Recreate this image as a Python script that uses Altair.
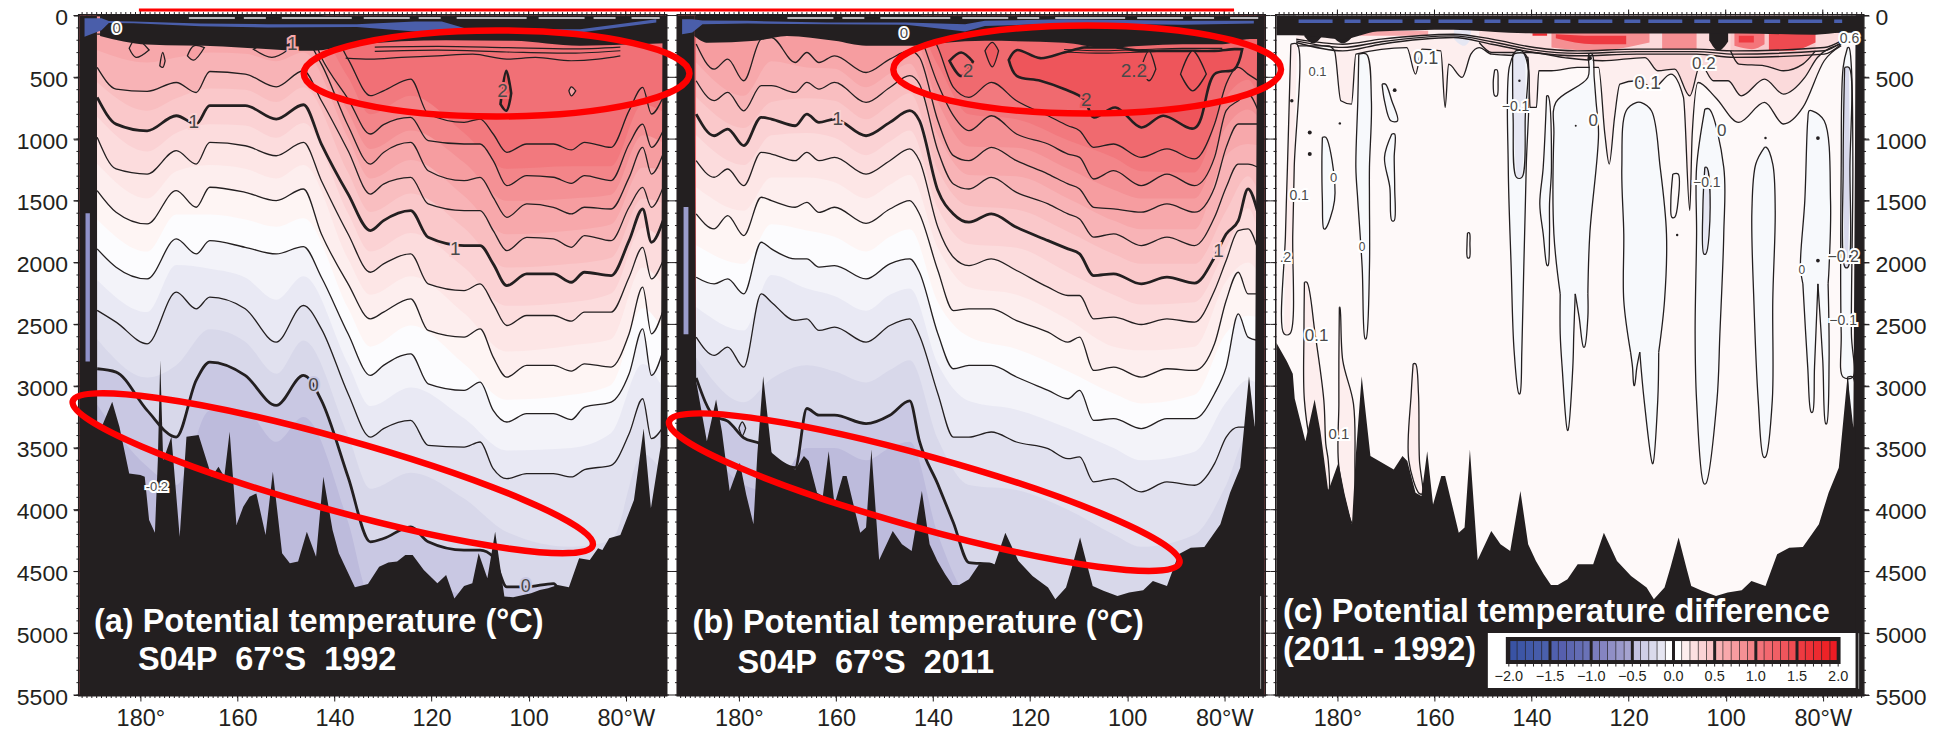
import altair as alt
import pandas as pd

INK = "#231f20"
FONT = "Liberation Sans"
W, H = 587, 680
XD = [192.55, 71.7]
YD = [5500, 0]

# ---------- panel (a) isotherm depths ----------
A_LON = [188.9,185,178.6,172.6,168.5,165.7,158.4,152,146.4,142.7,137.2,132.6,129.9,124.3,120.7,113.3,110,107.3,104.5,100.4,94.9,91.2,88.5,83,79.3,76.5,74.7,72.3]
A_LINES = {
 1.8:[0,0,0,0,0,0,0,0,0,0,353,649,609,514,797,865,838,959,1107,1040,1040,1088,1026,1067,770,581,797,662],
 1.6:[0,0,0,0,0,0,0,0,0,339,676,959,883,824,1013,1040,1040,1175,1377,1296,1309,1358,1296,1336,1040,879,1067,932],
 1.4:[151,151,151,151,151,151,151,151,178,393,892,1202,1108,1027,1256,1337,1310,1471,1633,1525,1552,1606,1552,1566,1310,1067,1283,1121],
 1.2:[420,595,614,542,623,453,474,577,447,690,1094,1445,1364,1310,1525,1579,1579,1741,1903,1795,1808,1876,1781,1822,1552,1391,1552,1391],
 1.0:[663,879,933,811,879,730,730,838,722,1040,1445,1741,1660,1579,1795,1862,1862,2010,2186,2091,2091,2159,2078,2105,1822,1566,1835,1660],
 0.8:[986,1242,1283,1094,1202,1027,1054,1135,1027,1337,1768,2078,2010,1930,2172,2226,2172,2334,2509,2428,2428,2474,2401,2401,2118,1876,2132,1983],
 0.6:[1417,1592,1687,1417,1552,1390,1431,1498,1404,1768,2172,2455,2401,2293,2549,2603,2536,2765,2927,2832,2832,2878,2819,2846,2576,2199,2576,2388],
 0.4:[1889,2037,2132,1808,1930,1822,1876,1930,1870,2118,2576,2913,2832,2738,2981,3034,2967,3196,3290,3223,3223,3271,3169,3129,2900,2536,2913,2711],
 0.2:[2387,2482,2657,2239,2374,2280,2374,2644,2347,2536,3061,3412,3344,3277,3479,3493,3452,3668,3749,3708,3708,3735,3676,3641,3385,3102,3425,3331],
 0.0:[2859,2886,3196,3412,2954,2805,2913,3156,2913,3115,3735,4260,4233,4139,4260,4328,4328,4382,4625,4625,4598,4866,4866,4866,4866,4866,4866,4866],
}
A_MID_LON = [188.9,178.6,172.6,165.7,158.4,152,146.4,137.2,132.6,124.3,113.3,104.5,91.2,83,76.5,72.3]
A_MID = {
 1.7:[0,0,0,0,0,0,0,500,800,650,950,1240,1220,1220,720,780],
 1.5:[100,100,100,100,100,100,110,780,1080,930,1190,1500,1480,1450,970,1030],
 1.3:[280,380,340,300,310,370,300,990,1320,1170,1460,1770,1740,1690,1230,1250],
 1.1:[540,770,670,590,600,700,580,1270,1590,1440,1720,2040,2010,1960,1480,1520],
 0.9:[820,1100,950,880,890,990,870,1600,1910,1760,2040,2350,2320,2250,1720,1820],
 0.7:[1200,1480,1260,1210,1240,1320,1210,1970,2260,2110,2410,2720,2670,2620,2040,2180],
 0.5:[1650,1910,1610,1610,1650,1710,1640,2370,2680,2510,2820,3110,3070,2990,2370,2550],
 0.3:[2140,2400,2020,2050,2120,2300,2110,2820,3160,3010,3260,3520,3500,3380,2820,3020],
 0.1:[2620,2930,2830,2540,2640,2900,2630,3400,3830,3700,3910,4180,4300,4250,3550,3700],
 -0.1:[3150,3650,3800,3200,3200,3450,3250,4100,4700,4600,4700,5000,5000,5000,4800,4800],
}
A_BATHY_LON = [192.55,188.95,188.9,187.8,185.8,184.3,182.3,180,179.1,178.2,177,176.4,175.9,175.3,173.6,171.9,170.5,168,165.3,163.9,162.7,161.6,160.2,158.8,157.5,156.1,154.2,152.7,150.8,149.2,147.5,145.7,143.8,142.3,140.4,139.1,135.8,133.1,130.8,128.9,127.1,125.4,123.9,121.6,118.8,117,115.3,113.3,111.6,110.3,108.5,106.9,105,103.2,99.5,97.7,96,94,91.7,89.6,87.4,85.7,84.8,83.4,81.1,78.3,76.3,74.8,72.8,72.4,71.7]
A_BATHY = [0,0,3288,3315,3127,3330,3706,3720,3733,4083,4186,3600,2790,3600,3410,4218,3410,3396,3733,3652,3733,3369,4124,3976,3895,3868,4205,3693,4353,4434,4420,4178,4380,3733,4164,4353,4628,4601,4461,4428,4420,4366,4366,4488,4596,4528,4719,4617,4596,4353,4555,4178,4703,4709,4676,4649,4636,4609,4628,4393,4407,4312,4326,4232,4205,3922,3342,3989,3490,0,0]

# ---------- panel (b) isotherm depths ----------
B_LON = [188.8,185.1,182.3,179,175.4,173.3,168.4,166,163.5,160.3,153.8,148.9,144.8,142.8,139,135.8,132.6,128,122.8,116.3,112.2,109.8,106.9,102.8,97.1,91.8,86.1,82,79.6,77.1,75.1,73]
B_LINES = {
 1.8:[0,0,0,0,0,0,0,0,0,0,0,0,0,0,259,581,662,541,690,811,892,932,1067,1040,1148,1080,1161,879,555,420,474,528],
 1.6:[0,0,0,0,0,0,0,0,0,0,0,0,0,151,555,811,932,811,959,1040,1121,1148,1323,1256,1377,1283,1377,1148,770,690,636,770],
 1.4:[231,434,353,528,191,178,380,299,380,326,461,353,285,339,851,1134,1175,1067,1175,1283,1363,1404,1552,1565,1592,1525,1592,1391,1067,878,878,878],
 1.2:[528,689,622,771,568,568,622,541,595,541,703,582,487,555,1094,1363,1404,1310,1431,1525,1606,1646,1794,1767,1862,1794,1862,1633,1390,1202,1202,1229],
 1.0:[798,973,919,1053,824,838,892,798,865,838,973,865,770,851,1417,1606,1673,1606,1714,1822,1889,1929,2105,2091,2172,2118,2166,1956,1768,1660,1404,1606],
 0.8:[1175,1309,1242,1377,1107,1121,1175,1107,1175,1148,1283,1175,1080,1175,1714,1956,2024,1970,2064,2199,2266,2266,2455,2441,2501,2455,2482,2226,1983,1741,1727,1902],
 0.6:[1606,1727,1619,1781,1471,1498,1552,1512,1593,1552,1682,1566,1498,1606,2064,2388,2374,2374,2469,2563,2644,2603,2873,2846,2927,2859,2873,2657,2307,2078,2253,2253],
 0.4:[2118,2172,2132,2253,1835,1889,1970,1970,2037,2024,2132,2010,1970,2078,2576,2859,2832,2832,2926,3034,3102,3034,3277,3263,3344,3263,3263,3061,2846,2415,2603,2630],
 0.2:[2603,2751,2684,2846,2253,2320,2468,2455,2549,2522,2644,2509,2455,2590,3061,3412,3412,3371,3452,3506,3587,3573,3775,3748,3856,3775,3802,3627,3412,3331,3331,3331],
 0.0:[2933,3243,3283,3418,3472,3552,3660,3181,3235,3235,3303,3235,3119,3445,3795,4105,4428,4442,4800,4800,4800,4800,4800,4800,4800,4800,4800,4800,4800,4800,4800,4800],
}
B_MID_LON = [188.8,179,173.3,166,160.3,153.8,148.9,144.8,139,132.6,122.8,112.2,102.8,97.1,86.1,79.6,75.1,73]
B_MID = {
 1.7:[0,0,0,0,0,0,0,0,400,800,840,1010,1150,1260,1270,660,520,650],
 1.5:[120,130,100,120,120,130,120,110,700,1060,1070,1240,1410,1480,1480,900,760,820],
 1.3:[380,650,370,420,430,580,470,390,970,1290,1300,1480,1660,1730,1730,1130,1040,1050],
 1.1:[660,910,700,670,690,840,720,630,1250,1540,1570,1750,1930,2010,2010,1580,1300,1420],
 0.9:[970,1210,970,950,990,1130,1020,930,1560,1850,1880,2080,2260,2340,2320,1880,1560,1750],
 0.7:[1390,1580,1310,1310,1350,1480,1370,1290,1880,2200,2260,2460,2680,2710,2680,2150,2000,2080],
 0.5:[1860,2010,1690,1740,1790,1910,1790,1730,2320,2600,2700,2880,3060,3140,3070,2570,2430,2440],
 0.3:[2360,2550,2100,2210,2270,2390,2260,2210,2820,3120,3190,3340,3500,3600,3530,3130,2950,2980],
 0.1:[2770,3130,2940,2830,2880,2970,2870,2790,3430,3800,3840,4000,4200,4300,4200,3800,3400,3500],
 -0.1:[3300,3800,3850,3500,3500,3600,3500,3450,4200,4700,4800,4900,5000,5000,5000,4800,4800,4800],
}
B_BATHY_LON = [192.55,189.2,188.8,186.6,184.7,183.5,181.9,179.8,178.5,177,176.2,175,173.2,168.4,166.6,165.6,163.9,162.7,161.5,160.3,158.6,157.8,155,153.8,152.7,151.1,148.3,146.4,144.4,142.3,140.7,139.1,137.5,136,134.6,132.6,130.5,127.3,125.1,122.4,119.5,116.3,114.8,112.6,111.4,109.7,108.1,107.1,104.9,102,99.6,96.7,94.7,91.8,89.4,86.9,84.1,80.8,78.8,76.7,74.9,73.7,73.2,71.7]
B_BATHY = [0,0,2960,3445,3108,3364,3849,3620,3876,4118,3552,2919,3566,3674,3566,3606,3862,3889,3526,3957,3728,3728,4186,4145,3512,4407,4172,4280,4334,3849,4280,4415,4523,4609,4609,4563,4442,4442,4186,4415,4536,4630,4725,4630,4469,4226,4469,4617,4657,4698,4671,4652,4577,4617,4361,4307,4302,4118,3862,3660,2919,3337,0,0]
C_BATHY_LON = [192.55,190.4,189.2,188.8] + B_BATHY_LON[3:]
C_BATHY = [2650,2800,2900,3100] + B_BATHY[3:]

BAND_COL = {1.8:"#f2797e",1.7:"#f38589",1.6:"#f49195",1.5:"#f69da0",1.4:"#f7a8ab",1.3:"#f8b3b6",1.2:"#f9bec0",1.1:"#fac8ca",1.0:"#fbd2d4",0.9:"#fcdcdd",0.8:"#fde6e6",0.7:"#fdeeee",0.6:"#fef5f4",0.5:"#fcfcfe",0.4:"#f3f3f9",0.3:"#e9e9f4",0.2:"#e1e1ef",0.1:"#d8d8ea",0.0:"#c9c8e3",-0.1:"#bdbbdc"}

# ---------- surface band of (a) and (b) ----------
A_BLACK_LON = [188.3,178.6,163,150.1,144.6,135.4,117,103.2,89.4,80.2,71.9]
A_BLACK = [165,235,250,280,285,235,200,205,245,235,225]
A_BLUE_LON = [191.5,188,186.5,181.4,167.6,153.8,135.4,123.4,117.9,112.4,89.4,73.7]
A_BLUE_T = [22,22,45,49,65,70,70,49,49,110,110,30]
A_BLUE_B = [172,120,60,62,86,97,92,129,137,137,137,57]
B_BLACK_LON = [189.2,186.4,176.6,170.1,160.3,153.8,144,137.5,129.3,113,104.9,96.7,88.6,80.4,74.7,73.2,71.7]
B_BLACK = [165,220,205,165,205,245,245,220,205,220,260,245,232,232,190,190,190]
B_BLUE_LON = [191.7,189.6,187.5,178.2,161.9,145.6,133.4,129.3,113,88.6,73.9]
B_BLUE_T = [30,30,40,43,57,57,70,43,30,43,43]
B_BLUE_B = [151,137,70,65,70,75,129,84,65,75,65]
STREAK_LON = [170,73]
STREAK_D = [20,20]

A_THIN = [
 ([137.7,132.6,126.2,118.8,111.5,104.5,98.6,91.2,85.7,81.1],[345,353,339,326,313,353,339,366,353,326]),
 ([131.7,118.8,104.5,91.2,81.1],[255,250,260,270,255]),
 ([131.7,118.8,104.5,91.2,81.1],[290,280,295,305,285]),
]
B_THIN = [
 ([113,104.9,96.7,88.6,80.4],[275,285,275,265,265]),
 ([113,104.9,96.7,88.6,80.4],[295,305,295,285,285]),
]

# closed contour loops: id, lon, top depth, bottom depth
A_LOOPS = [
 ("a",[182.3,180.9,178.2],[205,191,245],[326,339,313]),
 ("b",[170.3,169,166.8],[313,245,232],[339,361,286]),
 ("c",[156.7,152.9,149.6],[259,218,259],[286,339,299]),
 ("d",[176,175.4,174.9],[393,299,313],[420,420,420]),
 ("f",[91.7,91.2,90.3],[596,577,596],[623,650,623]),
]
A_LOOPS_BOLD = [("e",[105.8,104.6,103.6],[690,447,501],[744,771,757])]
B_LOOPS = [
 ("a",[129.3,127.8,126.5],[218,218,218],[353,415,353]),
 ("b",[97.1,95.5,94.1],[353,286,380],[488,528,488]),
 ("c",[89,86.5,83.7],[420,286,393],[528,609,555]),
]
B_LOOP_DEEP = [("d",[180,179.3,178.6],[3300,3290,3300],[3380,3400,3380])]
B_LOOPS_BOLD = [
 ("e",[124.4,122.8,117.9,113,108.9,106.9,102.4,97.1,92.6,86.1,82,77.9,76.3],[272,280,345,299,259,259,259,286,286,286,286,272,259],[447,488,528,595,676,824,744,906,811,911,474,434,286]),
 ("g",[136.6,134.2,131.8],[299,299,326],[434,490,420]),
]

# ---------- panel (c): tongues of the contours, depth / left lon / right lon / fill / outline kind ----------
C_TONGUES = [
 ([986,1175,1498,1727],[183.1,183.2,183.1,182.8],[182.4,181.1,180.6,182.5],"#f7f9fc","closed"),
 ([313,690,1229,1498,2037,2617],[175.6,175.8,176.2,175.8,174.9,174.3],[174,173,173.4,173.4,173.4,174.1],"#f7f9fc","closed"),
 ([959,1148,1391,1660],[168.8,170.3,169.2,168.8],[168.2,168.3,168.2,168.3],"#f7f9fc","closed"),
 ([555,690,852],[170.8,170.3,169],[170.1,168.8,167.6],"#f7f9fc","closed"),
 ([286,420,1229,2037,2711,3062],[143.3,144.6,144.8,144.2,143.6,142.6],[142,140.7,141.1,141.6,142,142.4],"#f7f9fc","closed"),
 ([313,825,1310],[143.9,143.8,143.1],[141.3,141.3,142],"#e6e7f3","closed"),
 ([650,1229,1525,1768,2024],[136.9,137.6,138.3,137.6,136.8],[136.6,135.9,136.3,136.3,136.6],"#f7f9fc","closed"),
 ([313,501,703,959,1768,2253],[128.2,128.4,135,135.4,135.4,134.1],[127.5,127.1,126.7,126.2,128,128.4],"#f7f9fc","openb"),
 ([2253,2576,2846,3358],[134.1,134.1,133.7,132.6],[131,131.3,131.5,132.5],"#f7f9fc","opent"),
 ([2253,2442,2684],[131,130.2,129.3],[128.4,128.4,129.1],"#f7f9fc","opent"),
 ([703,771,1229,1768,2307,2725],[118.3,120.5,121.4,121,121,119.6],[117.5,115.3,113.5,112.2,112.6,113.8],"#f7f9fc","openb"),
 ([2725,2846,2994],[119.6,119.2,118.9],[117.7,118.3,118.8],"#f7f9fc","opent"),
 ([2725,3115,3627],[117.7,116.8,115.1],[113.8,114,115],"#f7f9fc","opent"),
 ([757,1229,1768,2576,3115,3789],[104.3,106,106,106.3,106,104.5],[103.4,100.4,100.4,101.2,101.8,104.1],"#f7f9fc","closed"),
 ([1229,1552,1930],[104.3,104.7,104.5],[103.9,103.2,104.1],"#e6e7f3","closed"),
 ([1067,1202,1579,2307,3115,3574],[92,93.8,94.6,94.2,93.3,92.2],[91.6,90.3,89.8,90.3,90.4,91.8],"#f7f9fc","closed"),
 ([771,852,1498,2037,2172],[82.8,83.1,83.7,84.6,84.1],[82.2,79.7,78.4,78.7,78.9],"#f7f9fc","openb"),
 ([2172,2846,3210],[84.1,83.1,82.4],[81,81.7,82.1],"#f7f9fc","opent"),
 ([2172,2792,3304],[81,80,79.4],[78.9,78.7,79.2],"#f7f9fc","opent"),
 ([259,420,1229,2576,2927],[74.9,75.8,76.2,76.2,75.8],[74.6,74.1,73.8,74.1,73.8],"#f7f9fc","closed"),
 ([420,1229,2037],[75.5,75.8,75.4],[74.6,74.4,74.8],"#d8d9ec","closed"),
 ([2927,3466],[74.9,73.9],[73.8,73.8],"#f7f9fc","closed"),
 ([1760,1849,1960],[153.2,153.3,153.2],[152.8,152.7,152.8],"#fef9f9","closed"),
 ([440,545,650],[147.6,147.9,147.6],[147.1,146.9,147.1],"#fef9f9","closed"),
 ([1283,1498,1633],[110.9,111.3,111.1],[109.8,109.8,110.5],"#fef9f9","closed"),
 ([232,1229,1768,2576],[189.6,190.3,190.7,191],[188.3,188.9,189.2,189.8],"#fdeeee","closed"),
 ([2159,2576,3115,3466,3600,3843],[186.8,186.9,186.8,185.4,183.7,182.2],[186.3,184.6,182.8,182.4,181.9,181.8],"#fdeeee","closed"),
 ([2361,2792,3142,3654,4113],[179.6,179.7,179.7,179.7,176.9],[179.5,178.9,176.7,176.4,176.6],"#fdeeee","closed"),
 ([2819,3062,3600,3870],[164.4,164.8,165.3,163.1],[163.9,163.3,163.1,162.5],"#fdeeee","closed"),
]
C_01_LON = [188.5,181.9,180.6,179.3,177.1,176.2,165.7,163.9,162.6,158.7,157.8,157.1,154.3,152.5,150.8,148.2,142.9,140.7,140.3,139,138.5,135.9,130.6,126.2,124.9,124,122.9,121.8,118.3,114.8,111.3,108.7,107.4,106.9,105.7,102.1,97.3,92,88.1,84.1,79.7,76.2]
C_01 = [245,245,286,690,717,313,259,474,272,286,744,393,501,313,259,313,326,339,744,744,447,447,420,420,959,1202,825,555,528,582,474,663,1579,959,542,663,865,703,878,744,366,245]
C_02_LON = [150.8,148.2,140.3,133.3,125.4,116.6,114,110.5,107.4,105.2,102.5,99.5,96.8,92,88.1,83.7,81.1,76.2]
C_02 = [218,299,299,340,366,340,447,433,650,393,528,528,650,515,636,501,340,232]
C_03_LON = [99,97.3,92,88.1,84.1,81.5]
C_03 = [286,393,407,447,393,286]
C_BLOBS = [
 ([135.9,127.1,115.7],[137,137,137],[259,286,218],"#f58f92"),
 ([135,127.1,120.5],[151,164,164],[183,232,232],"#ee3a41"),
 ([139.8,139.4,136.8],[143,143,143],[164,164,164],"#ee2a30"),
 ([98.2,94.6,92],[137,137,137],[245,272,232],"#f4757a"),
 ([97.3,95.1,94.2],[164,164,164],[218,218,218],"#ee3a41"),
 ([91.1,86.8,81.5],[137,137,137],[286,286,218],"#ee4a50"),
 ([175.4,170,161.3],[124,124,124],[164,164,164],"#f8a8ab"),
 ([113.1,110,106],[137,137,137],[272,272,272],"#f58f92"),
 ([103.4,101.5,99.5],[137,137,137],[200,285,210],INK),
 ([186.8,185,183.2],[137,137,137],[170,225,170],INK),
 ([181,178.9,176.8],[137,137,137],[170,225,170],INK),
 ([156,153.9,152.5],[110,110,110],[190,245,190],"#e6e7f3"),
]
C_THIN_LON = [188.5,178.9,171,156.1,148.2,139.4,130.6,118.3,106,98.2,79.7,76.2]
C_THIN1 = [191,232,191,151,191,259,286,272,272,286,259,205]
C_THIN2 = [218,286,232,178,232,299,326,312,312,339,312,232]
C_THIN3 = [205,258,212,165,212,280,306,292,292,312,285,218]
C_BLACK_LON = [192.55,188.5,178.9,171.8,156.1,144.6,139.4,132.3,120,106,97.3,81.5,76.2,73.5,71.7]
C_BLACK = [160,160,191,130,115,140,145,145,145,145,145,155,140,140,140]
C_DOT_LON = [189.4,185.7,185.7,179.5,168.2,130.9,110,91.8,142.5,81,81,128]
C_DOT_D = [690,946,1121,873,604,892,1776,992,528,992,1983,345]
C_DOT_S = [12,16,16,6,14,4,6,6,6,14,14,18]

# label text, lon, depth, size, halo colour behind it
A_LABELS = [("0",144.3,2994,19,"#c9c8e3"),("1",148.7,232,19,"#f7a8ab"),("1",169,865,19,"#fbd2d4"),("2",105.4,609,19,"#f17076"),("1",115.1,1889,19,"#fbd2d4"),("0",100.6,4625,18,"#c9c8e3"),("0",184.9,97,15,"white"),("-0.2",176.6,3816,13,"white")]
B_LABELS = [("1",159.6,838,19,"#fbd2d4"),("2",132.8,453,19,"#f06a6f"),("2.2",98.6,447,19,"#ee555b"),("2",108.4,682,19,"#ee555b"),("1",81.2,1903,19,"#fbd2d4"),("0",146,143,15,"white")]
C_LABELS = [(t,x,y,s,"white") for t,x,y,s in [("0.1",184.1,461,13),("0.1",161.8,353,18),("0.2",104.5,393,17),("0.1",116.1,550,19),("\u22120.1",143.3,738,14),("0",127.3,857,17),("0",100.8,938,17),("0",180.8,1318,13),("0.1",187.9,1458,14),("\u22120.1",103.9,1358,14),("0",174.9,1870,12),("\u22120.2",75.8,1951,16),("0",84.3,2059,12),("0.1",184.3,2590,17),("\u22120.1",75.8,2469,14),("0.6",74.5,191,14),(".2",190.7,1962,14),("0.1",179.7,3390,15)]]

MAJOR_LON = [180,160,140,120,100,80]
MINOR_LON = list(range(72,193))
DEPTH_TICKS = list(range(0,5501,500))
MINOR_DEPTH = list(range(0,5501,100))

LEG_COLS = ["#3953a4","#3d56a6","#4159a8","#465caa","#4a60ac","#5060ae","#565fae","#5c66b0","#636cb4","#6a72b7","#7b7dbd","#8584c1","#908fc6","#9a99cb","#a5a3d0","#c4c3e1","#cfcfe6","#dadaec","#e6e6f2","#ffffff","#ffffff","#fdeeee","#fce0e1","#fbd3d5","#fac6c8","#f9b3b5","#f8a8ab","#f79ca0","#f59094","#f48589","#f3737a","#f2686f","#f15f65","#f0555c","#ef4c52","#ee3a41","#ee3238","#ed2a30","#ed2327","#ed1c24"]
LEG_TICKS = ["\u22122.0","\u22121.5","\u22121.0","\u22120.5","0.0","0.5","1.0","1.5","2.0"]
LEG_VALS = [-2,-1.5,-1,-0.5,0,0.5,1,1.5,2]

X_AXIS = alt.Axis(values=MAJOR_LON, title=None, grid=False, domain=False, tickSize=6, tickWidth=1, tickColor=INK,
                  labelFont=FONT, labelFontSize=23.5, labelColor=INK, labelPadding=6, labelFlush=False, labelOverlap=False,
                  labelExpr="datum.value==180?'\u00a0180\u00b0':datum.value==80?'\u00a0\u00a0\u00a080\u00b0W':format(datum.value,'d')")
def y_axis(orient):
    return alt.Axis(orient=orient, values=DEPTH_TICKS, title=None, grid=False, domain=False, tickSize=6, tickWidth=1, tickColor=INK,
                    labelFont=FONT, labelFontSize=23, labelColor=INK, labelPadding=6, labelOffset=2, format="d", labelOverlap=False)
CUR = {"y": None}

def xq(f="x"): return alt.X(f"{f}:Q", scale=alt.Scale(domain=XD, nice=False, zero=False), axis=X_AXIS)
def yq(f="y"): return alt.Y(f"{f}:Q", scale=alt.Scale(domain=YD, nice=False, zero=False), axis=CUR["y"], stack=None)
X2 = lambda f: alt.X2(f"{f}:Q")
Y2 = lambda f: alt.Y2(f"{f}:Q")

def band_layer(lines, mid_lon, mid, lon, base):
    rows = [dict(x=XD[0], y=0, b=5500, n="base", c=base), dict(x=XD[1], y=0, b=5500, n="base", c=base)]
    for t in sorted(set(lines) | set(mid), reverse=True):
        L, D = (lon, lines[t]) if t in lines else (mid_lon, mid[t])
        for a, d in zip(L, D):
            rows.append(dict(x=a, y=d, b=5500, n=str(t), c=BAND_COL[t]))
    return alt.Chart(pd.DataFrame(rows)).mark_area(interpolate="monotone", strokeWidth=0).encode(
        x=xq(), y=yq(), y2=Y2("b"), color=alt.Color("c:N", scale=None), detail="n:N")

def lines_layer(lines, lon, width):
    rows = []
    for t, D in lines.items():
        for a, d in zip(lon, D):
            rows.append(dict(x=a, y=d, n=str(t)))
    return alt.Chart(pd.DataFrame(rows)).mark_line(interpolate="monotone", color=INK, strokeWidth=width).encode(x=xq(), y=yq(), detail="n:N")

def thin_layer(items, width=1.2):
    rows = []
    for i, (L, D) in enumerate(items):
        for a, d in zip(L, D):
            rows.append(dict(x=a, y=d, n=str(i)))
    return alt.Chart(pd.DataFrame(rows)).mark_line(interpolate="monotone", color=INK, strokeWidth=width).encode(x=xq(), y=yq(), detail="n:N")

def span_layer(lon, top, bot, color, interp="linear"):
    df = pd.DataFrame(dict(x=lon, y=top, b=bot))
    return alt.Chart(df).mark_area(color=color, interpolate=interp, strokeWidth=0).encode(x=xq(), y=yq(), y2=Y2("b"))

def black_layer(lon, bot):
    return span_layer(lon, [0]*len(lon), bot, INK, "monotone")

def bathy_layer(lon, depth):
    return span_layer(lon, depth, [5500]*len(lon), INK)

def streak():
    return alt.Chart(pd.DataFrame(dict(x=STREAK_LON, y=STREAK_D))).mark_line(color="#eeeaf0", strokeWidth=1.6, strokeDash=[46,9,22,16,70,12]).encode(x=xq(), y=yq())

def sliver(lon, top, bot):
    return alt.Chart(pd.DataFrame(dict(x=[lon], y=[top], b=[bot]))).mark_rule(color="#9b9b9b", strokeWidth=1).encode(x=xq(), y=yq(), y2=Y2("b"))

def loops_layer(loops, fill, width):
    rows = []
    for n, L, T, B in loops:
        k = len(L)-1
        for i, (a, t, b) in enumerate(zip(L, T, B)):
            if i in (0, k):
                m = (t+b)/2
                t, b = m, m
            rows.append(dict(x=a, y=t, b=b, n=n))
    return alt.Chart(pd.DataFrame(rows)).mark_area(interpolate="catmull-rom", color=fill, stroke=INK, strokeWidth=width).encode(x=xq(), y=yq(), y2=Y2("b"), detail="n:N")

def tick_layers():
    top_min = alt.Chart(pd.DataFrame(dict(x=MINOR_LON))).mark_rule(color=INK, strokeWidth=1).encode(x=xq(), y=alt.value(-3.5), y2=alt.value(0))
    bot_min = alt.Chart(pd.DataFrame(dict(x=MINOR_LON))).mark_rule(color=INK, strokeWidth=1).encode(x=xq(), y=alt.value(H), y2=alt.value(H+3))
    top_maj = alt.Chart(pd.DataFrame(dict(x=MAJOR_LON))).mark_rule(color=INK, strokeWidth=1).encode(x=xq(), y=alt.value(-6), y2=alt.value(0))
    l_min = alt.Chart(pd.DataFrame(dict(y=MINOR_DEPTH))).mark_rule(color=INK, strokeWidth=1).encode(y=yq(), x=alt.value(-3), x2=alt.value(0))
    r_min = alt.Chart(pd.DataFrame(dict(y=MINOR_DEPTH))).mark_rule(color=INK, strokeWidth=1).encode(y=yq(), x=alt.value(W), x2=alt.value(W+3))
    l_maj = alt.Chart(pd.DataFrame(dict(y=DEPTH_TICKS))).mark_rule(color=INK, strokeWidth=1).encode(y=yq(), x=alt.value(-6), x2=alt.value(0))
    r_maj = alt.Chart(pd.DataFrame(dict(y=DEPTH_TICKS))).mark_rule(color=INK, strokeWidth=1).encode(y=yq(), x=alt.value(W), x2=alt.value(W+6))
    return [top_min, bot_min, top_maj, l_min, r_min, l_maj, r_maj]

def labels_layers(labels, color="#4a4a4a"):
    df = pd.DataFrame(labels, columns=["t","x","y","s","h"])
    enc = dict(x=xq(), y=yq(), text="t:N", size=alt.Size("s:Q", scale=None, legend=None))
    halo = alt.Chart(df).mark_text(font=FONT, strokeWidth=4, baseline="middle").encode(
        stroke=alt.Stroke("h:N", scale=None), color=alt.Color("h:N", scale=None), **enc)
    txt = alt.Chart(df).mark_text(font=FONT, color=color, baseline="middle").encode(**enc)
    return [halo, txt]

def title_layers(rows):
    out = []
    for t, px, py in rows:
        df = pd.DataFrame(dict(t=[t]))
        out.append(alt.Chart(df).mark_text(font=FONT, fontWeight="bold", fontSize=32.5, color="white", align="left", baseline="alphabetic").encode(
            x=alt.value(px), y=alt.value(py), text="t:N"))
    return out

NB = "\u00a0\u00a0"
# ----- panel a -----
CUR["y"] = y_axis("left")
panel_a = alt.layer(
    band_layer(A_LINES, A_MID_LON, A_MID, A_LON, "#f17076"),
    loops_layer(A_LOOPS, "#f7a0a4", 1.3),
    lines_layer({k:v for k,v in A_LINES.items() if k not in (1.0,0.0)}, A_LON, 1.3),
    lines_layer({k:v for k,v in A_LINES.items() if k in (1.0,0.0)}, A_LON, 2.8),
    thin_layer(A_THIN),
    loops_layer(A_LOOPS_BOLD, "#ef5a60", 2.6),
    bathy_layer(A_BATHY_LON, A_BATHY),
    span_layer([191.3,190.4],[1600,1600],[2800,2800],"#8f92c9"),
    black_layer(A_BLACK_LON, A_BLACK),
    span_layer(A_BLUE_LON, A_BLUE_T, A_BLUE_B, "#4a5eaa"),
    streak(),
    *tick_layers(),
    *labels_layers(A_LABELS),
    *title_layers([("(a) Potential temperature (\u00b0C)",14.5,617),(f"S04P{NB}67\u00b0S{NB}1992",58.5,655)]),
).properties(width=W, height=H)

# ----- panel b -----
CUR["y"] = None
panel_b = alt.layer(
    band_layer(B_LINES, B_MID_LON, B_MID, B_LON, "#f06a6f"),
    loops_layer(B_LOOPS_BOLD[:1], "#ee555b", 2.6),
    lines_layer({k:v for k,v in B_LINES.items() if k not in (1.0,0.0)}, B_LON, 1.3),
    lines_layer({k:v for k,v in B_LINES.items() if k in (1.0,0.0)}, B_LON, 2.8),
    loops_layer(B_LOOPS, "#ee5a60", 1.3),
    loops_layer(B_LOOP_DEEP, "#c9c8e3", 1.3),
    loops_layer(B_LOOPS_BOLD[1:], "#f06a6f", 2.6),
    thin_layer(B_THIN),
    bathy_layer(B_BATHY_LON, B_BATHY),
    span_layer([191.4,190.4],[1550,1550],[2580,2580],"#9a9ccb"),
    black_layer(B_BLACK_LON, B_BLACK),
    span_layer(B_BLUE_LON, B_BLUE_T, B_BLUE_B, "#4a5eaa"),
    streak(),
    sliver(72.5,4700,5450),
    *tick_layers(),
    *labels_layers(B_LABELS),
    *title_layers([("(b) Potential temperature (\u00b0C)",14.5,618),(f"S04P{NB}67\u00b0S{NB}2011",59.5,658)]),
).properties(width=W, height=H)

# ----- panel c -----
CUR["y"] = y_axis("right")
def d_of(y): return (y-15)*5500/680
def lon_of(px): return XD[0]-(px-1277.5)*(XD[0]-XD[1])/W
def leg_lon(v): return lon_of(1510+(v+2)*82.4)

fill_rows, edge_rows = [], []
for i,(D,L,R,c,kind) in enumerate(C_TONGUES):
    for d,l,r in zip(D,L,R):
        fill_rows.append(dict(y=d,x=l,r=r,n=str(i),c=c))
    left = list(zip(L,D))
    right = list(zip(R,D))
    if kind == "closed":
        path = left + right[::-1] + left[:1]
    elif kind == "opent":
        path = left + right[::-1]
    else:
        path = left[::-1] + right
    for j,(x,y) in enumerate(path):
        edge_rows.append(dict(x=x,y=y,n=str(i),o=j))
tongue_fill = alt.Chart(pd.DataFrame(fill_rows)).mark_area(orient="horizontal", interpolate="catmull-rom", strokeWidth=0).encode(
    y=yq(), x=xq(), x2=X2("r"), color=alt.Color("c:N", scale=None), detail="n:N")
tongue_edge = alt.Chart(pd.DataFrame(edge_rows)).mark_line(interpolate="catmull-rom", color=INK, strokeWidth=1.3).encode(
    x=xq(), y=yq(), detail="n:N", order=alt.Order("o:Q"))

base_c = alt.Chart(pd.DataFrame(dict(x=XD, y=[0,0], b=[5500,5500]))).mark_area(color="#fef9f9", strokeWidth=0).encode(
    x=xq(), y=yq(), y2=Y2("b"))

def filled_contour(lon, d, col):
    df = pd.DataFrame(dict(x=lon, y=[0]*len(lon), b=d))
    fill = alt.Chart(df).mark_area(color=col, strokeWidth=0, interpolate="monotone").encode(x=xq(), y=yq(), y2=Y2("b"))
    line = alt.Chart(df).mark_line(color=INK, strokeWidth=1.3, interpolate="monotone").encode(x=xq(), y=alt.Y("b:Q", scale=alt.Scale(domain=YD, nice=False, zero=False), axis=CUR["y"]))
    return [fill, line]

blob_rows=[]
for i,(L,T,B,c) in enumerate(C_BLOBS):
    for a,t,b in zip(L,T,B):
        blob_rows.append(dict(x=a,y=t,b=b,c=c,n=str(i)))
blobs = alt.Chart(pd.DataFrame(blob_rows)).mark_area(interpolate="monotone", strokeWidth=0).encode(
    x=xq(), y=yq(), y2=Y2("b"), color=alt.Color("c:N", scale=None), detail="n:N")

surf_blue = alt.Chart(pd.DataFrame(dict(x=[188,76],y=[46,46]))).mark_line(color="#4a5fae", strokeWidth=3.5, strokeDash=[34,12,16,8]).encode(x=xq(), y=yq())
dots = alt.Chart(pd.DataFrame(dict(x=C_DOT_LON,y=C_DOT_D,s=C_DOT_S))).mark_point(filled=True, color=INK, opacity=1).encode(
    x=xq(), y=yq(), size=alt.Size("s:Q", scale=None, legend=None))

# legend
leg_rows=[]
for i,c in enumerate(LEG_COLS):
    v0=-2+0.1*i
    gap0 = 0.018 if i%5==0 else 0.004
    gap1 = 0.018 if i%5==4 else 0.004
    leg_rows.append(dict(x=leg_lon(v0+gap0),r=leg_lon(v0+0.1-gap1),y=d_of(641),b=d_of(660),c=c))
leg_cells = alt.Chart(pd.DataFrame(leg_rows)).mark_rect(strokeWidth=0).encode(x=xq(), x2=X2("r"), y=yq(), y2=Y2("b"), color=alt.Color("c:N", scale=None))
leg_box = alt.Chart(pd.DataFrame(dict(x=[lon_of(1489)],r=[lon_of(1857)],y=[d_of(633)],b=[d_of(688)]))).mark_rect(color="white").encode(x=xq(),x2=X2("r"),y=yq(),y2=Y2("b"))
leg_frame = alt.Chart(pd.DataFrame(dict(x=[lon_of(1507)],r=[lon_of(1842)],y=[d_of(637)],b=[d_of(664)]))).mark_rect(color=INK).encode(x=xq(),x2=X2("r"),y=yq(),y2=Y2("b"))
leg_tick_df = pd.DataFrame(dict(x=[leg_lon(-2+0.1*i) for i in range(41)], y=[d_of(664)]*41, b=[d_of(666.5)]*41))
leg_ticks = alt.Chart(leg_tick_df).mark_rule(color=INK, strokeWidth=1).encode(x=xq(), y=yq(), y2=Y2("b"))
leg_text = alt.Chart(pd.DataFrame(dict(t=LEG_TICKS, x=[leg_lon(v) for v in LEG_VALS], y=[d_of(677)]*9))).mark_text(font=FONT, fontSize=14.5, color=INK, baseline="middle").encode(x=xq(), y=yq(), text="t:N")

# ellipses and top rule (annotations, drawn last so they lie over neighbouring panels)
OX = 1277.5
ELLIPSES = [(497,73,193,43,0),(333,473,270,36,15.5),(1088,69,194,44,0),(925,492,265,36,15.5)]
def ellipse(cx,cy,a,b,ang):
    r = b/a
    path = f"M-1,0A1,{r:.4f},0,1,1,1,0A1,{r:.4f},0,1,1,-1,0Z"
    df = pd.DataFrame(dict(k=[1]))
    return alt.Chart(df).mark_point(shape=path, size=(2*a)**2, filled=False, stroke="#ff0000", strokeWidth=6.5, opacity=1, angle=ang).encode(
        x=alt.value(cx-OX), y=alt.value(cy-15))
top_line = alt.Chart(pd.DataFrame(dict(k=[1]))).mark_rule(color="#ff0000", strokeWidth=3).encode(
    x=alt.value(139-OX), x2=alt.value(1235-OX), y=alt.value(-5.5))

panel_c = alt.layer(
    base_c,
    *filled_contour(C_01_LON, C_01, "#fdeeee"),
    *filled_contour(C_02_LON, C_02, "#fbdadb"),
    *filled_contour(C_03_LON, C_03, "#f9c9cb"),
    tongue_fill,
    tongue_edge,
    blobs,
    thin_layer([(C_THIN_LON,C_THIN1),(C_THIN_LON,C_THIN2),(C_THIN_LON,C_THIN3)], 1.4),
    dots,
    bathy_layer(C_BATHY_LON, C_BATHY),
    span_layer([73.2,71.7],[0,0],[5500,5500],INK),
    black_layer(C_BLACK_LON, C_BLACK),
    surf_blue,
    sliver(72.6,5000,5450),
    *tick_layers(),
    *labels_layers(C_LABELS),
    *title_layers([("(c) Potential temperature difference",6.5,607),("(2011 - 1992)",6.5,645)]),
    leg_box, leg_frame, leg_cells, leg_ticks, leg_text,
    *[ellipse(*e) for e in ELLIPSES],
    top_line,
).properties(width=W, height=H)

chart = alt.hconcat(panel_a, panel_b, panel_c, spacing=12, bounds="flush").properties(
    autosize=alt.AutoSizeParams(type="none"),
    padding={"left":71.5,"top":7,"right":1853,"bottom":712},
    background="white",
).configure_view(fill=INK, stroke=INK, strokeWidth=3)

chart.save("out.html", embed_options={"renderer": "svg", "actions": False})
